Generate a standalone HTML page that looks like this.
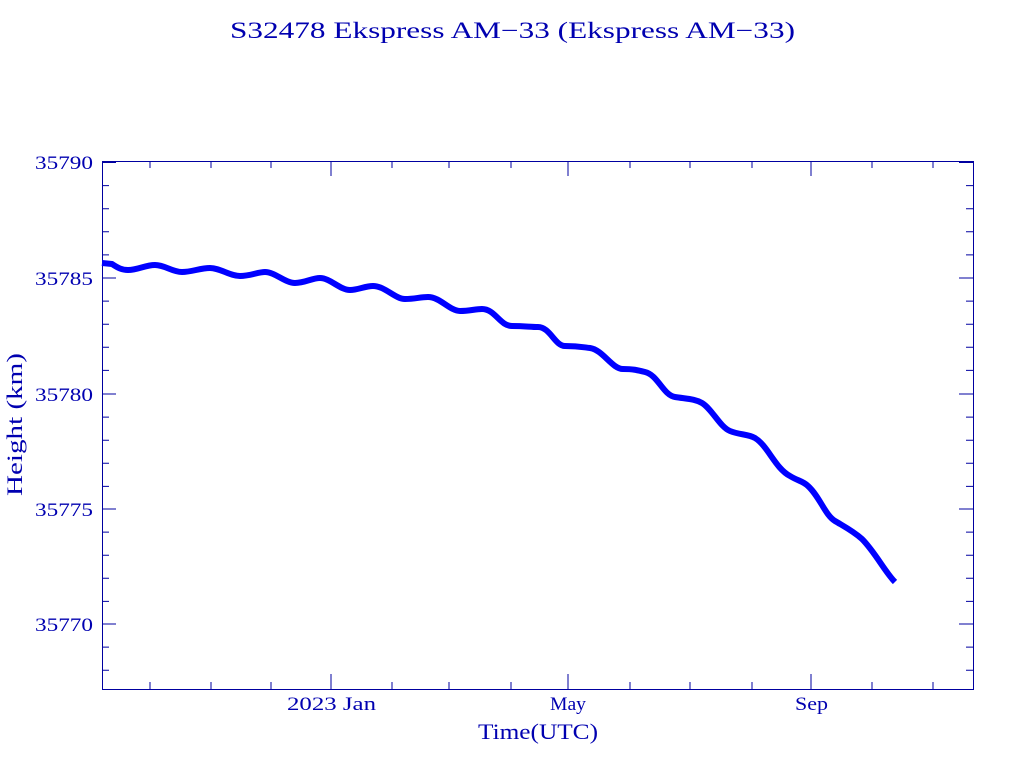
<!DOCTYPE html>
<html><head><style>
body{margin:0;background:#fff;}
svg text{font-family:"Liberation Serif",serif;fill:#0000b0;}
</style></head><body>
<svg width="1024" height="768" xmlns="http://www.w3.org/2000/svg">
<text x="230" y="38" font-size="23" textLength="565" lengthAdjust="spacingAndGlyphs" style="font-family:'Liberation Serif',serif">S32478 Ekspress AM−33  (Ekspress AM−33)</text>
<g stroke="#0000a0" stroke-width="1" fill="none">
<rect x="102.5" y="161.5" width="871" height="528"/>
<path d="M102 162.5h14M102 278h14M102 394h14M102 509h14M102 624h14M973 162.5h-14M973 278h-14M973 394h-14M973 509h-14M973 624h-14
M102 185.6h7M102 208.7h7M102 231.8h7M102 254.9h7M102 301.1h7M102 324.2h7M102 347.3h7M102 370.4h7M102 417.1h7M102 440.2h7M102 463.3h7M102 486.4h7M102 532.1h7M102 555.2h7M102 578.3h7M102 601.4h7M102 647.1h7M102 670.2h7
M973 185.6h-7M973 208.7h-7M973 231.8h-7M973 254.9h-7M973 301.1h-7M973 324.2h-7M973 347.3h-7M973 370.4h-7M973 417.1h-7M973 440.2h-7M973 463.3h-7M973 486.4h-7M973 532.1h-7M973 555.2h-7M973 578.3h-7M973 601.4h-7M973 647.1h-7M973 670.2h-7
M331 689v-15M568 689v-15M811 689v-15M331 161v15M568 161v15M811 161v15
M150 689v-7M211 689v-7M271 689v-7M392 689v-7M449 689v-7M511 689v-7M630 689v-7M690 689v-7M752 689v-7M872 689v-7M933 689v-7
M150 161v7M211 161v7M271 161v7M392 161v7M449 161v7M511 161v7M630 161v7M690 161v7M752 161v7M872 161v7M933 161v7"/>
</g>
<g font-size="19">
<text x="35" y="169" textLength="58" lengthAdjust="spacingAndGlyphs">35790</text>
<text x="35" y="285" textLength="58" lengthAdjust="spacingAndGlyphs">35785</text>
<text x="35" y="401" textLength="58" lengthAdjust="spacingAndGlyphs">35780</text>
<text x="35" y="516" textLength="58" lengthAdjust="spacingAndGlyphs">35775</text>
<text x="35" y="631" textLength="58" lengthAdjust="spacingAndGlyphs">35770</text>
<text x="287" y="710" textLength="89" lengthAdjust="spacingAndGlyphs">2023 Jan</text>
<text x="550" y="710" textLength="36" lengthAdjust="spacingAndGlyphs">May</text>
<text x="795" y="710" textLength="33" lengthAdjust="spacingAndGlyphs">Sep</text>
</g>
<text x="478" y="739" font-size="22" textLength="120" lengthAdjust="spacingAndGlyphs">Time(UTC)</text>
<text transform="translate(22,496) rotate(-90)" font-size="22" textLength="143" lengthAdjust="spacingAndGlyphs">Height (km)</text>
<path fill="none" stroke="#0000ff" stroke-width="6" stroke-linejoin="round" d="M102 263 L112 264 C118 268,122 270,128 270 C138 270,145 265,155 265 C165 265,172 272,182 272 C192 272,200 268,210 268 C220 268,230 276,240 276 C250 276,258 272,265 272 C275 272,285 283,295 283 C305 283,312 278,320 278 C330 278,340 290,350 290 C358 290,365 286,373 286 C385 286,395 299,405 299 C415 299,420 297,428 297 C440 297,450 311,460 311 C470 311,475 309,482 309 C495 309,500 326,512 326 C525 326,530 327,538 327 C550 327,555 346,565 346 C578 346,582 347,590 348 C603 350,612 369,623 369 C633 369,637 370,645 372 C658 375,663 395,675 397 C688 399,695 399,702 403 C712 409,720 427,730 431 C740 435,748 434,755 438 C768 446,775 468,790 476 C798 481,803 481,808 486 C820 497,825 515,835 521 C845 527,853 531,862 539 C875 552,885 572,895 582"/>
</svg>
</body></html>
